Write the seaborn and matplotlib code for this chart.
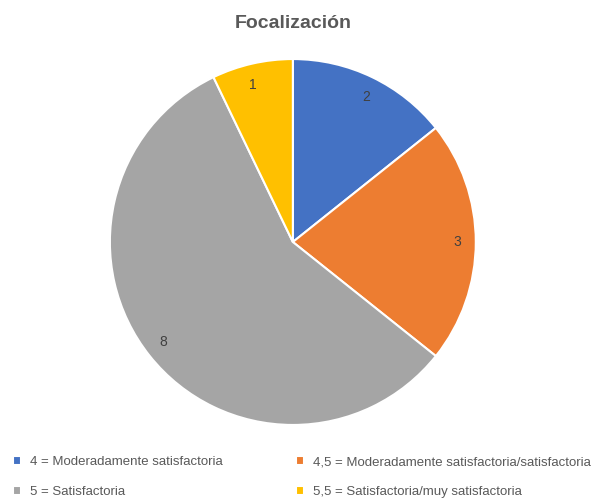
import matplotlib
matplotlib.use("Agg")
import matplotlib.pyplot as plt
import seaborn as sns

categorias = ["4 = Moderadamente satisfactoria",
              "4,5 = Moderadamente satisfactoria/satisfactoria",
              "5 = Satisfactoria",
              "5,5 = Satisfactoria/muy satisfactoria"]
valores = [2, 3, 8, 1]
colores = ["#4472C4", "#ED7D31", "#A5A5A5", "#FFC000"]

sns.set_theme(style="white")
plt.rcParams['font.family'] = ['Liberation Sans', 'DejaVu Sans']

fig = plt.figure(figsize=(5.94, 5.0), dpi=100)
ax = fig.add_axes([0.185, 0.15, 0.616, 0.732])

wedges, textos = ax.pie(valores, colors=colores, startangle=90, counterclock=False,
                        labels=[str(v) for v in valores], labeldistance=0.88,
                        wedgeprops=dict(edgecolor="white", linewidth=1.5),
                        textprops=dict(color="#404040", fontsize=10))
ax.set_xlim(-1.0, 1.0)
ax.set_ylim(-1.0, 1.0)
ax.set_aspect("equal")

fig.text(0.493, 0.952, "Focalización", ha="center", va="center",
         fontsize=14, fontweight="bold", color="#595959")

# orden para que quede por filas: 4, 4.5 / 5, 5.5
orden = [0, 2, 1, 3]
leg = fig.legend([wedges[i] for i in orden], [categorias[i] for i in orden],
                 ncol=2, loc="lower left", bbox_to_anchor=(0.002, -0.02),
                 frameon=False, fontsize=9.5, handlelength=0.6, handleheight=0.6,
                 handletextpad=0.7, columnspacing=5.55, labelspacing=1.35,
                 labelcolor="#595959")

fig.savefig("out.png", dpi=100)
